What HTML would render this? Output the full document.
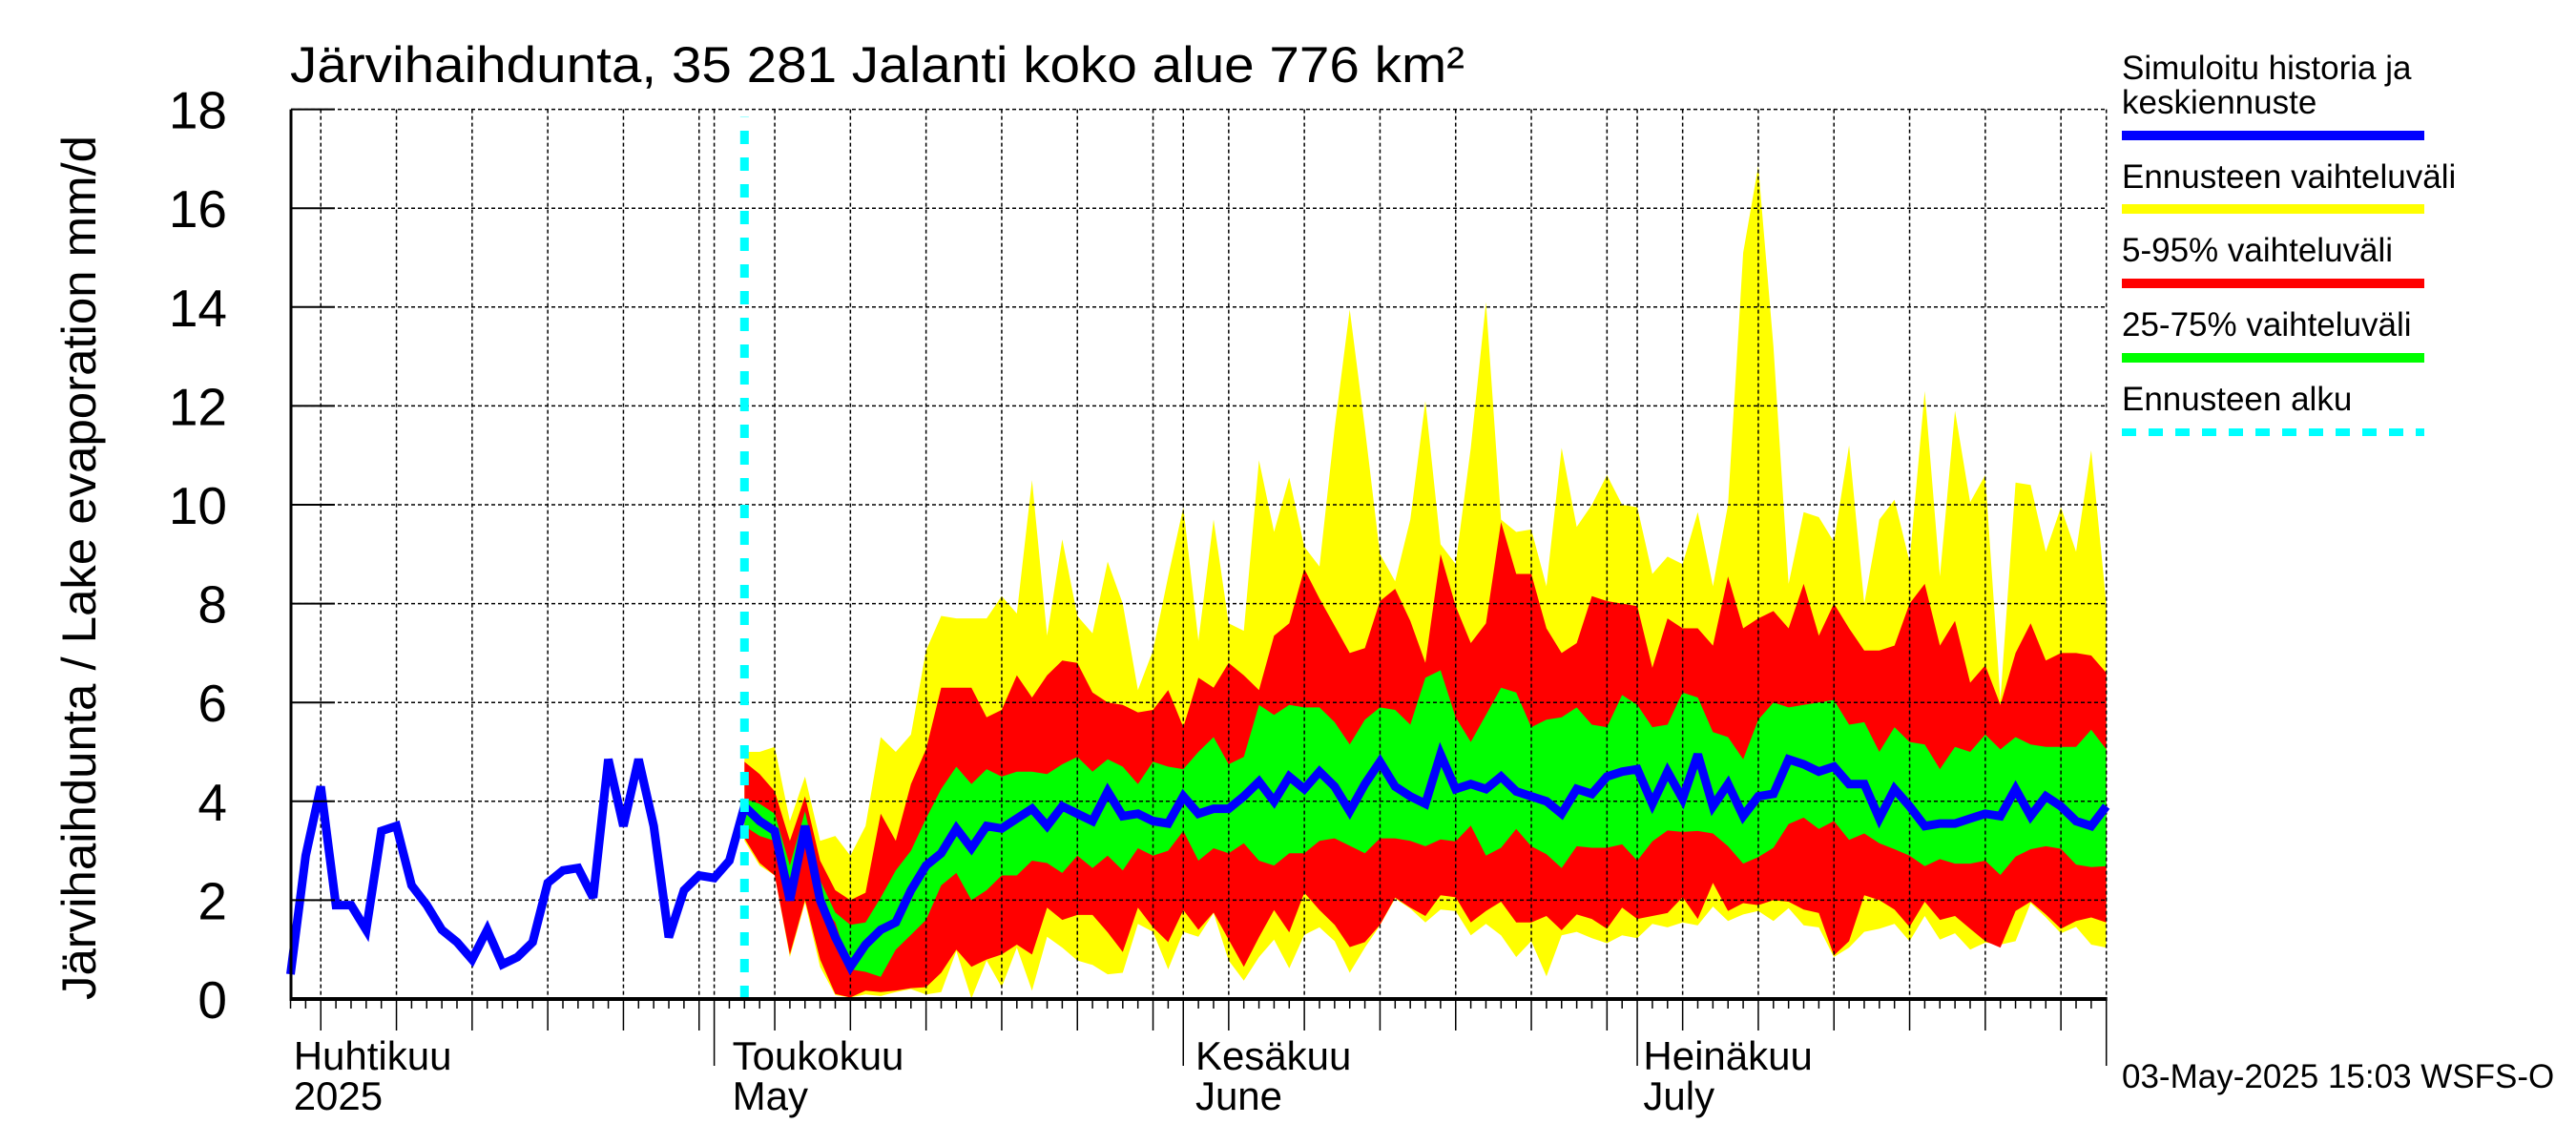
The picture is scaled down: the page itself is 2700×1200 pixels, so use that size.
<!DOCTYPE html>
<html><head><meta charset="utf-8"><style>
html,body{margin:0;padding:0;background:#fff;}
svg{display:block;font-family:"Liberation Sans",Arial,sans-serif;}
</style></head><body>
<svg id="chart" width="2700" height="1200" viewBox="0 0 2700 1200" xmlns="http://www.w3.org/2000/svg">
<rect x="0" y="0" width="2700" height="1200" fill="#fff"/>
<g id="bands"></g>
<g id="grid"></g>
<g id="lines"></g>
<g id="axes"></g>
<text x="304" y="86" font-size="53" textLength="1231" lengthAdjust="spacingAndGlyphs">Järvihaihdunta, 35 281 Jalanti koko alue 776 km²</text>
<text transform="translate(100,1048) rotate(-90)" font-size="50" textLength="906" lengthAdjust="spacingAndGlyphs">Järvihaihdunta / Lake evaporation   mm/d</text>
<g font-size="35">
<text x="2224" y="83">Simuloitu historia ja</text>
<text x="2224" y="119">keskiennuste</text>
<rect x="2224" y="137" width="317" height="10" fill="#0000ff"/>
<text x="2224" y="197">Ennusteen vaihteluväli</text>
<rect x="2224" y="214" width="317" height="10" fill="#ffff00"/>
<text x="2224" y="274">5-95% vaihteluväli</text>
<rect x="2224" y="292" width="317" height="10" fill="#ff0000"/>
<text x="2224" y="352">25-75% vaihteluväli</text>
<rect x="2224" y="370" width="317" height="10" fill="#00ff00"/>
<text x="2224" y="430">Ennusteen alku</text>
<line x1="2224" y1="453" x2="2541" y2="453" stroke="#00ffff" stroke-width="8" stroke-dasharray="15 13"/>
</g>
<text x="2224" y="1140" font-size="35">03-May-2025 15:03 WSFS-O</text>
</svg>
<script>
// ---- data ----
const yTicks = [0,2,4,6,8,10,12,14,16,18];
const monthLabels = [["Huhtikuu","2025"],["Toukokuu","May"],["Kesäkuu","June"],["Heinäkuu","July"]];
const monthLabelDays = [2.2, 31.2, 61.8, 91.4];
const monthStartDays = [30, 61, 91, 122];
const firstDay = 2, lastDay = 122, forecastStartDay = 32;
const blueStart = 2;
const blueVals = [0.5,2.9,4.3,1.9,1.9,1.4,3.4,3.5,2.3,1.9,1.4,1.15,0.8,1.4,0.7,0.85,1.15,2.35,2.6,2.65,2.05,4.85,3.5,4.85,3.5,1.25,2.2,2.5,2.45,2.8,3.9,
3.6,3.4,2.0,3.5,2.0,1.25,0.65,1.1,1.4,1.55,2.2,2.7,2.95,3.45,3.05,3.5,3.45,3.65,3.85,3.5,3.9,3.75,3.6,4.2,3.7,3.75,3.6,3.55,4.1,3.75,3.85,3.85,4.1,4.4,4.0,4.5,4.25,4.6,4.3,3.8,4.35,4.8,4.3,4.1,3.95,4.95,4.25,4.35,4.25,4.5,4.2,4.1,4.0,3.75,4.25,4.15,4.5,4.6,
4.65,3.95,4.6,4.05,4.95,3.9,4.35,3.7,4.1,4.15,4.85,4.75,4.6,4.7,4.35,4.35,3.65,4.25,3.9,3.5,3.55,3.55,3.65,3.75,3.7,4.25,3.7,4.1,3.9,3.6,3.5,3.9];
const bandStart = 32;
const yellowMax = [5.0,5.0,5.1,3.6,4.5,3.2,3.3,2.9,3.5,5.3,5.0,5.35,7.05,7.75,7.7,7.7,7.7,8.15,7.8,10.5,7.35,9.3,7.75,7.4,8.85,8.0,6.25,7.05,8.55,9.95,7.25,9.7,7.6,7.45,10.9,9.45,10.55,9.15,8.75,11.55,13.95,11.55,9.0,8.45,9.7,12.1,9.2,8.8,11.15,14.1,9.7,9.45,9.5,8.35,11.15,9.55,10.0,10.6,10.0,
9.95,8.6,8.95,8.8,9.85,8.35,10.0,15.1,16.85,13.2,8.4,9.85,9.75,9.25,11.2,8.0,9.7,10.1,8.85,12.3,8.55,11.9,10.05,10.6,6.05,10.45,10.4,9.05,9.95,9.05,11.1,8.0];
const redMax = [4.8,4.55,4.2,3.2,4.1,2.8,2.2,2.0,2.15,3.75,3.2,4.35,5.05,6.3,6.3,6.3,5.7,5.85,6.55,6.1,6.55,6.85,6.8,6.2,6.0,5.95,5.8,5.85,6.25,5.5,6.5,6.3,6.8,6.55,6.25,7.35,7.6,8.7,8.1,7.55,7.0,7.1,8.05,8.3,7.65,6.8,9.0,7.95,7.2,7.6,9.65,8.6,8.6,7.5,7.0,7.2,8.15,8.05,8.0,
7.95,6.7,7.7,7.5,7.5,7.15,8.55,7.5,7.7,7.85,7.5,8.4,7.35,8.0,7.5,7.05,7.05,7.15,8.0,8.4,7.15,7.65,6.4,6.75,5.95,7.0,7.6,6.85,7.0,7.0,6.95,6.6];
const greenMax = [4.05,3.95,3.75,2.7,3.8,2.4,1.75,1.5,1.55,2.05,2.6,3.0,3.65,4.25,4.7,4.35,4.65,4.5,4.6,4.6,4.55,4.75,4.9,4.6,4.85,4.7,4.35,4.8,4.7,4.65,5.0,5.3,4.75,4.9,5.95,5.75,5.95,5.9,5.9,5.6,5.15,5.65,5.9,5.85,5.55,6.5,6.65,5.7,5.2,5.75,6.3,6.2,5.5,5.65,5.7,5.9,5.55,5.5,6.15,
5.95,5.5,5.55,6.2,6.1,5.4,5.3,4.85,5.65,6.0,5.9,5.95,6.0,6.05,5.55,5.6,5.0,5.5,5.2,5.15,4.65,5.1,5.0,5.35,5.05,5.3,5.15,5.1,5.1,5.1,5.45,5.05];
const greenMin = [3.5,3.3,3.2,2.45,3.1,1.95,1.55,0.6,0.55,0.45,1.0,1.3,1.6,
2.3,2.55,2.0,2.2,2.5,2.5,2.8,2.75,2.55,2.9,2.65,2.9,2.6,3.05,2.9,3.0,3.4,2.8,3.05,2.95,3.15,2.8,2.7,2.95,2.95,3.2,3.25,3.1,2.95,3.25,3.25,3.2,
3.09,3.23,3.19,3.51,2.9,3.06,3.44,3.09,2.93,2.65,3.09,3.06,3.06,3.13,2.8,3.19,3.41,3.38,3.4,3.35,3.09,2.74,2.87,3.06,3.54,3.67,3.44,3.6,3.22,3.35,3.15,3.03,2.9,2.69,2.83,2.74,2.74,2.8,2.51,2.88,3.03,3.09,3.04,2.72,2.67,2.69];
const redMin = [3.25,2.75,2.5,0.9,2.0,0.8,0.1,0.03,0.17,0.14,0.17,0.22,0.24,0.53,1.0,0.65,0.8,0.9,1.1,0.9,1.85,1.6,1.7,1.7,1.35,0.95,1.85,1.45,1.15,1.8,1.4,1.75,1.2,0.65,1.25,1.8,1.35,2.15,1.8,1.5,1.05,1.15,1.5,2.05,1.85,
1.68,2.1,2.06,1.55,1.78,1.97,1.55,1.55,1.68,1.39,1.71,1.62,1.42,1.85,1.62,1.68,1.74,2.06,1.62,2.35,1.78,1.94,1.9,2.0,1.97,1.81,1.74,0.88,1.17,2.1,2.0,1.81,1.46,1.97,1.6,1.68,1.42,1.17,1.04,1.78,1.97,1.71,1.42,1.58,1.65,1.55];
const yellowMin = [3.2,2.7,2.5,0.85,1.95,0.65,0.08,0.03,0.09,0.06,0.14,0.2,0.09,0.14,0.97,0.01,0.78,0.24,1.04,0.17,1.26,1.04,0.78,0.69,0.5,0.53,1.52,1.36,0.6,1.36,1.26,1.74,0.78,0.37,0.85,1.2,0.62,1.3,1.45,1.17,0.53,1.04,1.49,2.03,1.83,
1.55,1.81,1.78,1.29,1.52,1.29,0.85,1.17,0.46,1.29,1.36,1.23,1.13,1.29,1.23,1.52,1.45,1.55,1.49,1.87,1.58,1.71,1.78,1.58,1.84,1.49,1.45,0.85,1.04,1.36,1.42,1.52,1.17,1.68,1.2,1.33,1.0,1.14,1.1,1.17,1.94,1.65,1.33,1.46,1.1,1.04];

// ---- axes ----
const NS = "http://www.w3.org/2000/svg";
const X0 = 272.8, DX = 15.86, Y0 = 1047, DY = 51.8;
const PL = 305, PR = 2207.7, PT = Y0 - 18*DY;
function xs(d){ return X0 + d*DX; }
function ys(v){ return Y0 - v*DY; }
function mk(tag, attrs, parent){
  const e = document.createElementNS(NS, tag);
  for (const k in attrs) e.setAttribute(k, attrs[k]);
  parent.appendChild(e); return e;
}
const gB = document.getElementById('bands');
const gG = document.getElementById('grid');
const gL = document.getElementById('lines');
const gA = document.getElementById('axes');

function band(upper, lower, color, name){
  let pts = [];
  for (let i=0;i<upper.length;i++) pts.push(xs(bandStart+i).toFixed(1)+","+ys(upper[i]).toFixed(1));
  for (let i=lower.length-1;i>=0;i--) pts.push(xs(bandStart+i).toFixed(1)+","+ys(lower[i]).toFixed(1));
  const p = mk('polygon', {points: pts.join(' '), fill: color}, gB);
  
  
}
band(yellowMax, yellowMin, '#ffff00', 'band-forecast-range');
band(redMax, redMin, '#ff0000', 'band-5-95');
band(greenMax, greenMin, '#00ff00', 'band-25-75');

// grid
for (const v of yTicks){
  if (v === 0) continue;
  const l = mk('line', {x1: PL, x2: PR, y1: ys(v), y2: ys(v), stroke: '#000', 'stroke-width': 1.5, 'stroke-dasharray': '4 3'}, gG);
  
  
}
for (let d = firstDay; d <= lastDay; d++){
  if (d % 5 === 4 || monthStartDays.includes(d)){
    const l = mk('line', {x1: xs(d), x2: xs(d), y1: PT, y2: Y0, stroke: '#000', 'stroke-width': 1.5, 'stroke-dasharray': '4 3'}, gG);
    
    
  }
}

// blue line
let bp = [];
for (let i=0;i<blueVals.length;i++) bp.push(xs(blueStart+i).toFixed(1)+","+ys(blueVals[i]).toFixed(1));
const bl = mk('polyline', {points: bp.join(' '), fill: 'none', stroke: '#0000ff', 'stroke-width': 9, 'stroke-linejoin': 'miter', 'stroke-miterlimit': 3}, gL);



// forecast start
const cy = mk('line', {x1: xs(forecastStartDay), x2: xs(forecastStartDay), y1: Y0, y2: PT+8, stroke: '#00ffff', 'stroke-width': 9, 'stroke-dasharray': '14 14'}, gL);



// axes lines
const ax1 = mk('line', {x1: PL, x2: PL, y1: PT, y2: Y0+2, stroke: '#000', 'stroke-width': 3}, gA);


const ax2 = mk('line', {x1: PL, x2: PR+1, y1: Y0, y2: Y0, stroke: '#000', 'stroke-width': 4}, gA);



// y ticks
for (const v of yTicks){
  const t = mk('line', {x1: PL, x2: PL+46, y1: ys(v), y2: ys(v), stroke: '#000', 'stroke-width': 2}, gA);
  
  
  const lb = mk('text', {x: 238, y: ys(v)+20, 'font-size': 55, 'text-anchor': 'end'}, gA);
  lb.textContent = String(v);
  
  
}
// x ticks
for (let d = firstDay; d <= lastDay; d++){
  let len = 10;
  if (d % 5 === 4) len = 33;
  if (monthStartDays.includes(d)) len = 70;
  const t = mk('line', {x1: xs(d), x2: xs(d), y1: Y0, y2: Y0+len, stroke: '#000', 'stroke-width': 1.5}, gA);
  
  
}
// month labels
for (let i=0;i<monthLabels.length;i++){
  const x = xs(monthLabelDays[i]);
  const a = mk('text', {x: x, y: 1121, 'font-size': 42}, gA);
  a.textContent = monthLabels[i][0];
  
  
  const b = mk('text', {x: x, y: 1163, 'font-size': 42}, gA);
  b.textContent = monthLabels[i][1];
  
  
}
</script>
</body></html>
